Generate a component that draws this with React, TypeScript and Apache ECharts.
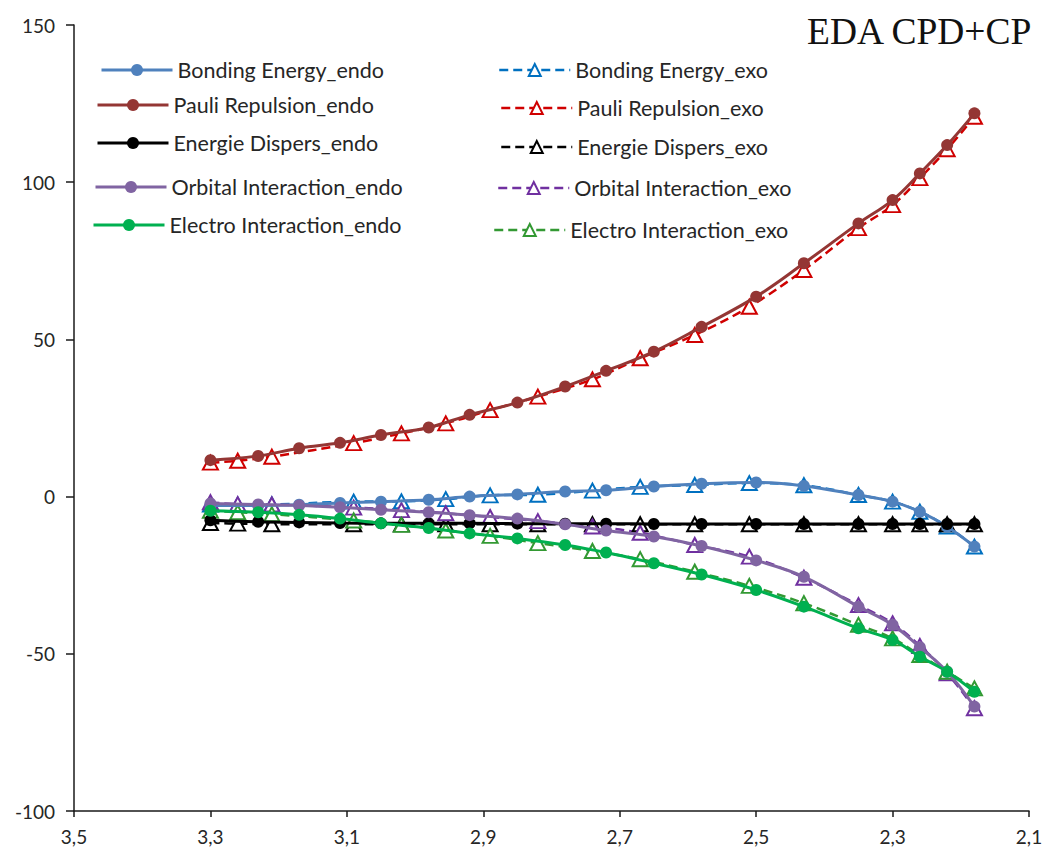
import React, { useEffect, useRef } from "react";
import * as echarts from "echarts";

// Interatomic distance (x) for the two adduct families
const xEndo = [3.3, 3.23, 3.17, 3.11, 3.05, 2.98, 2.92, 2.85, 2.78, 2.72, 2.65, 2.58, 2.5, 2.43, 2.35, 2.3, 2.26, 2.22, 2.18];
const xExo = [3.3, 3.26, 3.21, 3.09, 3.02, 2.955, 2.89, 2.82, 2.74, 2.67, 2.59, 2.51, 2.43, 2.35, 2.3, 2.26, 2.22, 2.18];

// Endo energy terms
const bondingEndo = [-2.8, -2.8, -2.6, -2.0, -1.6, -1.0, 0.0, 0.7, 1.6, 2.0, 3.2, 4.1, 4.5, 3.4, 0.5, -1.6, -4.8, -9.6, -15.9];
const pauliEndo = [11.6, 12.9, 15.4, 17.1, 19.6, 22.0, 26.0, 29.9, 35.0, 40.0, 46.1, 54.0, 63.6, 74.2, 86.9, 94.3, 102.8, 111.8, 121.9];
const dispEndo = [-7.5, -8.0, -8.2, -8.4, -8.5, -8.5, -8.5, -8.6, -8.6, -8.6, -8.7, -8.7, -8.7, -8.7, -8.7, -8.7, -8.7, -8.7, -8.7];
const orbitalEndo = [-2.2, -2.5, -2.8, -3.4, -4.2, -5.0, -5.9, -7.0, -8.8, -10.8, -12.7, -15.7, -20.3, -25.5, -35.0, -40.8, -47.9, -55.7, -66.8];
const electroEndo = [-4.5, -5.0, -5.8, -7.0, -8.5, -10.0, -11.7, -13.3, -15.4, -17.8, -21.2, -24.8, -29.7, -35.0, -41.9, -45.6, -50.9, -55.7, -62.1];

// Exo energy terms
const bondingExo = [-2.5, -2.6, -2.5, -1.6, -1.5, -0.8, 0.4, 0.6, 1.9, 3.1, 3.7, 4.3, 3.6, 0.5, -1.6, -4.8, -9.5, -15.9];
const pauliExo = [10.8, 11.4, 12.7, 17.0, 20.1, 23.3, 27.5, 31.8, 37.3, 44.0, 51.4, 60.4, 72.1, 85.4, 92.7, 101.3, 110.5, 120.8];
const dispExo = [-8.4, -8.6, -8.8, -8.8, -8.8, -8.8, -8.8, -8.8, -8.8, -8.8, -8.8, -8.8, -8.8, -8.8, -8.8, -8.8, -8.8, -8.8];
const orbitalExo = [-1.8, -2.4, -2.5, -3.5, -4.3, -5.3, -6.5, -7.8, -9.5, -11.5, -15.4, -19.1, -25.8, -34.5, -40.3, -47.5, -56.2, -67.3];
const electroExo = [-4.5, -5.0, -5.6, -7.6, -9.0, -10.8, -12.5, -14.8, -17.3, -19.9, -23.9, -28.4, -33.9, -40.8, -45.1, -50.4, -55.7, -61.0];

const xTicks = [2.1, 2.3, 2.5, 2.7, 2.9, 3.1, 3.3, 3.5];
const yTicks = [-100, -50, 0, 50, 100, 150];

const endoNames = [
  "Bonding Energy_endo",
  "Pauli Repulsion_endo",
  "Energie Dispers_endo",
  "Orbital Interaction_endo",
  "Electro Interaction_endo",
];
const exoNames = [
  "Bonding Energy_exo",
  "Pauli Repulsion_exo",
  "Energie Dispers_exo",
  "Orbital Interaction_exo",
  "Electro Interaction_exo",
];
const endoColors = ["#4F81BD", "#943634", "#000000", "#8064A2", "#00B050"];
const exoColors = ["#0070C0", "#D00000", "#000000", "#7030A0", "#339933"];
const endoValues = [bondingEndo, pauliEndo, dispEndo, orbitalEndo, electroEndo];
const exoValues = [bondingExo, pauliExo, dispExo, orbitalExo, electroExo];

const FONT = "Lato, 'Open Sans', sans-serif";

// legend placement for each row (icon left edge, row centre)
const endoLegendPos = [
  [100, 70],
  [96, 105],
  [96, 143],
  [94, 187],
  [92, 225],
];
const exoLegendPos = [
  [498, 70],
  [500, 108],
  [500, 147],
  [497, 188],
  [493, 230],
];

export default function App() {
  const ref = useRef<HTMLDivElement>(null);

  useEffect(() => {
    if (!ref.current) return;
    const chart = echarts.init(ref.current, undefined, { renderer: "svg" });

    const series: any[] = [];
    endoNames.forEach((name, k) => {
      series.push({
        name,
        type: "line",
        data: xEndo.map((x, i) => [x, endoValues[k][i]]),
        smooth: 0.4,
        symbol: "circle",
        symbolSize: 12,
        z: 3,
        lineStyle: { color: endoColors[k], width: 3 },
        itemStyle: { color: endoColors[k] },
        emphasis: { disabled: true },
      });
    });
    exoNames.forEach((name, k) => {
      series.push({
        name,
        type: "line",
        data: xExo.map((x, i) => [x, exoValues[k][i]]),
        smooth: 0.4,
        symbol: "triangle",
        symbolSize: [15, 14],
        z: 2,
        lineStyle: { color: exoColors[k], width: 2.5, type: [9, 5] },
        itemStyle: { color: "#ffffff", borderColor: exoColors[k], borderWidth: 2 },
        emphasis: { disabled: true },
      });
    });

    const legends: any[] = [];
    const makeLegend = (name: string, pos: number[], dashed: boolean) => ({
      data: [name],
      left: pos[0],
      top: pos[1] - 12,
      orient: "vertical",
      padding: 0,
      itemWidth: 71,
      itemHeight: 15,
      itemGap: 5,
      selectedMode: false,
      lineStyle: { width: dashed ? 2.5 : 3 },
      textStyle: {
        fontFamily: FONT,
        fontSize: 21.5,
        lineHeight: 24,
        color: "#262626",
        padding: [0, 0, 0, 0],
      },
    });
    endoNames.forEach((n, k) => legends.push(makeLegend(n, endoLegendPos[k], false)));
    exoNames.forEach((n, k) => legends.push(makeLegend(n, exoLegendPos[k], true)));

    chart.setOption({
      animation: false,
      backgroundColor: "#ffffff",
      grid: { left: 74, right: 20, top: 25, bottom: 41, containLabel: false },
      legend: legends,
      graphic: [
        {
          type: "text",
          x: 807,
          y: 31,
          style: {
            text: "EDA CPD+CP",
            fontFamily: "'Liberation Serif', 'Times New Roman', serif",
            fontSize: 37.5,
            fill: "#111111",
            verticalAlign: "middle",
          },
        },
      ],
      xAxis: {
        type: "value",
        min: 2.1,
        max: 3.5,
        inverse: true,
        splitLine: { show: false },
        axisLine: { show: true, onZero: false, lineStyle: { color: "#1a1a1a", width: 1.5 } },
        axisTick: { show: true, customValues: xTicks, length: 6, lineStyle: { color: "#1a1a1a", width: 1.5 } },
        axisLabel: {
          customValues: xTicks,
          formatter: (v: number) => v.toFixed(1).replace(".", ","),
          fontFamily: FONT,
          fontSize: 19,
          color: "#262626",
          margin: 16,
        },
      },
      yAxis: {
        type: "value",
        min: -100,
        max: 150,
        interval: 50,
        splitLine: { show: false },
        axisLine: { show: true, onZero: false, lineStyle: { color: "#1a1a1a", width: 1.5 } },
        axisTick: { show: true, length: 8, lineStyle: { color: "#1a1a1a", width: 1.5 } },
        axisLabel: {
          fontFamily: FONT,
          fontSize: 19,
          color: "#262626",
          margin: 19,
          formatter: (v: number) => (yTicks.includes(v) ? String(v) : ""),
        },
      },
      series,
    });

    return () => chart.dispose();
  }, []);

  return (
    <div
      ref={ref}
      style={{ position: "fixed", left: 0, top: 0, width: 1049, height: 852, background: "#fff" }}
    />
  );
}
